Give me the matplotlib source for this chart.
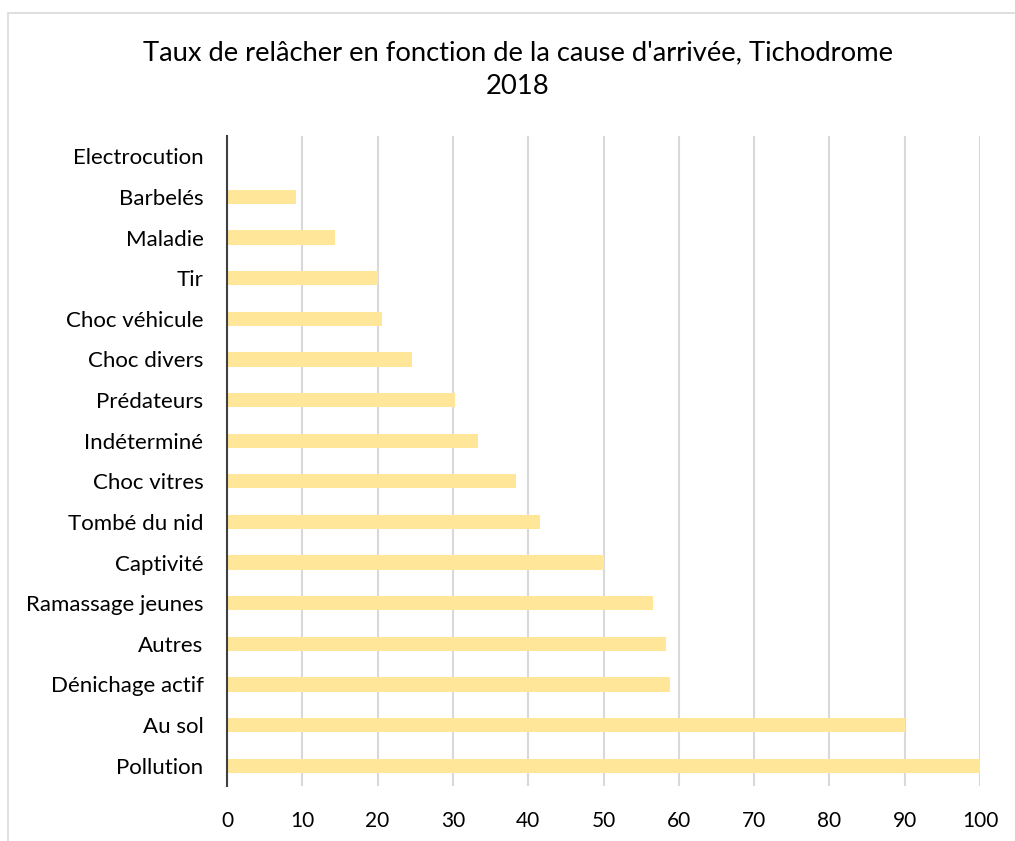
import matplotlib
matplotlib.use("Agg")
import matplotlib.pyplot as plt
from matplotlib.patches import Rectangle

categories = ["Electrocution", "Barbelés", "Maladie", "Tir", "Choc véhicule",
              "Choc divers", "Prédateurs", "Indéterminé", "Choc vitres",
              "Tombé du nid", "Captivité", "Ramassage jeunes", "Autres",
              "Dénichage actif", "Au sol", "Pollution"]
values = [0, 9.1, 14.3, 20.0, 20.6, 24.6, 30.3, 33.3, 38.4, 41.6, 50.0,
          56.6, 58.3, 58.8, 90.0, 100.0]
xticks = [0, 10, 20, 30, 40, 50, 60, 70, 80, 90, 100]
title = "Taux de relâcher en fonction de la cause d'arrivée, Tichodrome\n2018"

plt.rcParams['font.family'] = ['Lato', 'DejaVu Sans']

W, H = 1015, 841
fig = plt.figure(figsize=(W / 100, H / 100), dpi=100)
fig.patches.append(Rectangle((8 / W, -0.2), 1.2, 1.2 - 13 / H, transform=fig.transFigure,
                             fill=False, edgecolor="#d9d9d9", linewidth=1.2))

ax = fig.add_axes([227 / W, 1 - 786 / H, (980 - 227) / W, (786 - 136) / H])
y = list(range(len(categories)))
ax.barh(y, values, height=0.35, color="#FFE699", zorder=3)
ax.set_ylim(len(categories) - 0.5, -0.5)
ax.set_xlim(0, 100)
ax.set_yticks(y)
ax.set_yticklabels(categories, fontsize=16)
ax.set_xticks(xticks)
ax.set_xticklabels([str(t) for t in xticks], fontsize=15)
ax.tick_params(axis='y', length=0, pad=17)
ax.tick_params(axis='x', length=0, pad=18)
ax.grid(axis='x', color="#d9d9d9", linewidth=1.5, zorder=0)
for s in ["top", "right", "bottom"]:
    ax.spines[s].set_visible(False)
ax.spines["left"].set_color("#404040")
ax.spines["left"].set_linewidth(1.5)
ax.spines["left"].set_zorder(4)

fig.text(518 / W, 1 - 70 / H, title, ha="center", va="center", fontsize=19.7,
         linespacing=1.45, color="#000000")

fig.savefig("out.png", dpi=100)
